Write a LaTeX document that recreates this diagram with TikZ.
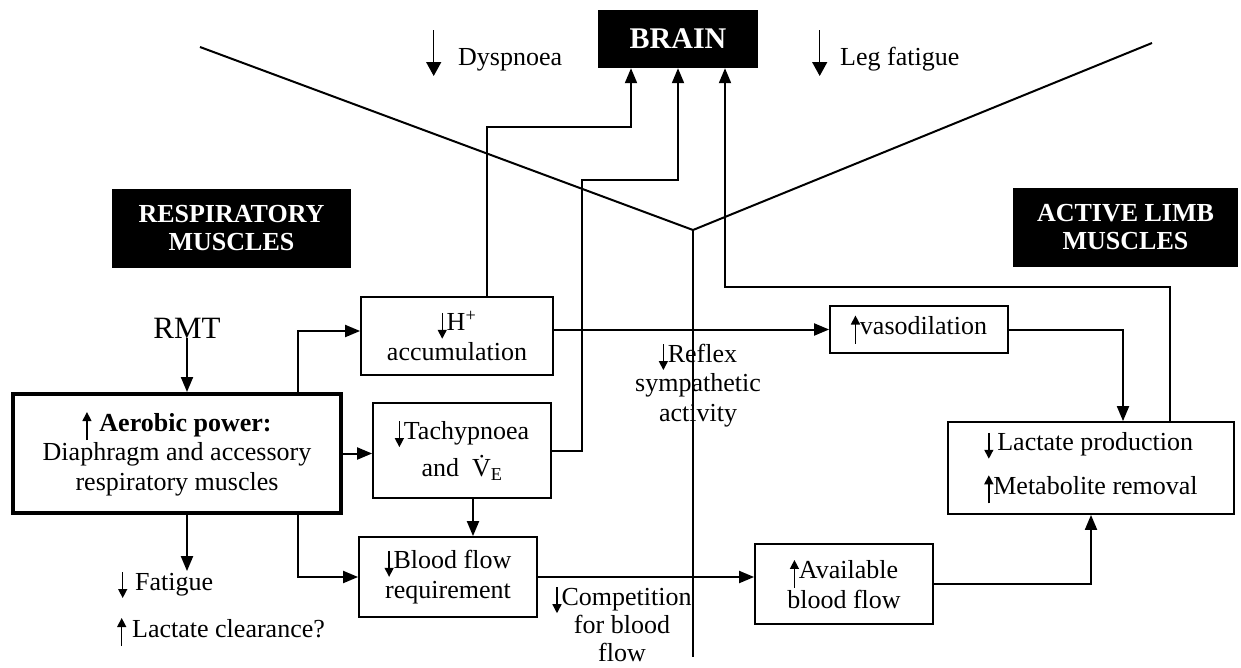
\documentclass[tikz,border=0pt]{standalone}
\usepackage{fontspec}
\setmainfont{Liberation Serif}
\usetikzlibrary{arrows.meta}

% small arrows set inside the text
\newcommand{\txtarrow}[4]{\tikz[baseline=0pt]\draw[line width=1.4pt,-{Triangle[length=#3,width=#4]}] #1 -- #2;}
\def\dnar{\txtarrow{(0,18pt)}{(0,-8pt)}{9pt}{9pt}}
\def\upar{\txtarrow{(0,-9pt)}{(0,19pt)}{9pt}{9pt}}
\def\dnbig{\txtarrow{(0,35pt)}{(0,-11pt)}{14pt}{15pt}}

\begin{document}
\begin{tikzpicture}[x=1pt,y=-1pt,
    font=\fontsize{26}{29.5}\selectfont,
    box/.style={draw, line width=1.8pt, align=center, inner sep=0pt},
    head/.style={fill=black, text=white, align=center, font=\fontsize{26}{28}\selectfont\bfseries},
    conn/.style={line width=2pt, -{Triangle[length=15pt,width=12pt]}},
    divider/.style={line width=2pt},
    note/.style={inner sep=0pt, align=center}]
  \useasboundingbox (0,0) rectangle (1241,667);

  % headings
  \node[head, minimum width=160, minimum height=58, font=\fontsize{30}{32}\selectfont\bfseries] (brain) at (678,39) {BRAIN};
  \node[head, minimum width=239, minimum height=79] (resp) at (231.5,228.5) {RESPIRATORY\\MUSCLES};
  \node[head, minimum width=225, minimum height=79] (limb) at (1125.5,227.5) {ACTIVE LIMB\\MUSCLES};
  \node[note, anchor=base west] (dysp) at (426,65) {\dnbig\hspace{17pt}Dyspnoea};
  \node[note, anchor=base west] (leg) at (812,65) {\dnbig\hspace{13pt}Leg fatigue};

  % respiratory side
  \node[note, font=\fontsize{31}{33}\selectfont] (rmt) at (187,328) {RMT};
  \node[box, line width=4pt, minimum width=328, minimum height=119] (aer) at (177,453.5)
    {\upar\hspace{8pt}\textbf{Aerobic power:}\\Diaphragm and accessory\\respiratory muscles};
  \node[note, anchor=base west] (fat) at (118,590) {\dnar\hspace{8pt}Fatigue};
  \node[note, anchor=base west] (clear) at (117,637) {\upar\hspace{6pt}Lactate clearance?};
  \node[box, minimum width=192, minimum height=78] (hplus) at (457,336) {\dnar H\textsuperscript{+}\\accumulation};
  \node[box, minimum width=178, minimum height=95] (tachy) at (462,450.5) {\dnar Tachypnoea\\[6pt]and\enspace\.{V}\textsubscript{E}};
  \node[box, minimum width=178, minimum height=80] (bfreq) at (448,577) {\dnar Blood flow\\requirement};
  \node[note] (reflex) at (698,385) {\dnar Reflex\\sympathetic\\activity};
  \node[note, font=\fontsize{26}{28}\selectfont] (compet) at (622,624) {\dnar Competition\\for blood\\flow};

  % limb side
  \node[box, minimum width=178, minimum height=47] (vaso) at (919,329.5) {\upar vasodilation};
  \node[box, minimum width=178, minimum height=80] (avail) at (844,584) {\upar Available\\blood flow};
  \node[box, minimum width=286, minimum height=92, align=left] (lact) at (1091,468)
    {\dnar\hspace{4pt}Lactate production\\[14pt]\upar Metabolite removal};

  % dividing lines
  \coordinate (lt) at (200,47);
  \coordinate (vtx) at (693,230);
  \coordinate (rt) at (1152,43);
  \coordinate (vbot) at (693,657);
  \draw[divider] (lt) -- (vtx) -- (rt);
  \draw[divider] (vtx) -- (vbot);

  % connectors
  \draw[conn] (rmt.south) -- (rmt.south |- aer.north);
  \draw[conn] (rmt.south |- aer.south) -- (rmt.south |- fat.north);
  \draw[conn] ([xshift=121pt]aer.north) |- ([yshift=5pt]hplus.west);
  \draw[conn] (aer.east) -- (aer.east -| tachy.west);
  \draw[conn] ([xshift=121pt]aer.south) |- (bfreq.west);
  \draw[conn] ([xshift=30pt]hplus.north) -- ++(0,-169) -| ([xshift=-47pt]brain.south);
  \draw[conn] (tachy.east) -- ++(30,0) -- ++(0,-271) -| (brain.south);
  \draw[conn] ([xshift=11pt]tachy.south) -- ([xshift=11pt]tachy.south |- bfreq.north);
  \draw[conn] (hplus.east |- vaso.west) -- (vaso.west);
  \draw[conn] (vaso.east) -| ([xshift=32pt]lact.north);
  \draw[conn] ([xshift=79pt]lact.north) -- ++(0,-134) -| ([xshift=47pt]brain.south);
  \draw[conn] (bfreq.east) -- (bfreq.east -| avail.west);
  \draw[conn] (avail.east) -| (lact.south);
\end{tikzpicture}
\end{document}
